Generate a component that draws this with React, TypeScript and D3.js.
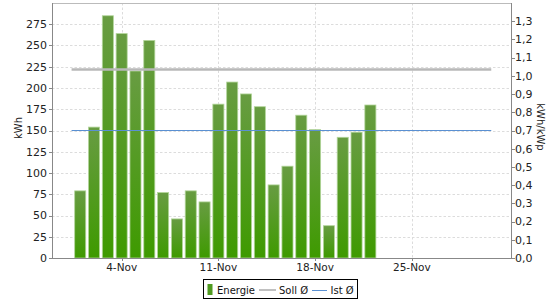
import React from 'react';
import * as d3 from 'd3';

// ---- data ----
const dayNumbers = [1,2,3,4,5,6,7,8,9,10,11,12,13,14,15,16,17,18,19,20,21,22];
const energyKWh = [79,154,285,264,220,256,77,46,79,66,181,207,193,178,86,108,168,151,38,142,148,180];
const sollAvgKWhPerKWp = 1.035;
const istAvgKWh = 150.2;
const avgLineStart = new Date(2012, 9, 31, 9, 0);
const avgLineEnd = new Date(2012, 10, 30, 18, 0);
const leftTicks = [0,25,50,75,100,125,150,175,200,225,250,275];
const rightTicks = [0,0.1,0.2,0.3,0.4,0.5,0.6,0.7,0.8,0.9,1.0,1.1,1.2,1.3];
const xTickDays = [4, 11, 18, 25];
const xTickLabels = ['4-Nov', '11-Nov', '18-Nov', '25-Nov'];
const legendLabels = ['Energie', 'Soll Ø', 'Ist Ø'];

const W = 560, H = 300;
const M = { left: 52, right: 512, top: 3, bottom: 258 };
const FONT = 'DejaVu Sans, sans-serif';

export default function App() {
  const x = d3.scaleTime()
    .domain([new Date(2012, 9, 29, 23, 0), new Date(2012, 11, 2, 6, 0)])
    .range([M.left, M.right]);
  const yL = d3.scaleLinear().domain([0, 300]).range([M.bottom, M.top]);
  const yR = d3.scaleLinear().domain([0, 1.4]).range([M.bottom, M.top]);
  const fmtR = (v: number) => d3.format('.1f')(v).replace('.', ',');
  const dayDate = (d: number) => new Date(2012, 10, d);
  const halfBar = 0.4 * 24 * 3600 * 1000;

  return (
    <svg width={W} height={H} style={{ position: 'absolute', left: 0, top: 0, background: '#fff' }} fontFamily={FONT}>
      <defs>
        <linearGradient id="barGrad" x1="0" y1="0" x2="0" y2="1">
          <stop offset="0%" stopColor="#689c42" />
          <stop offset="100%" stopColor="#3e9a00" />
        </linearGradient>
      </defs>
      {/* horizontal grid */}
      {leftTicks.filter(t => t > 0).map(t => (
        <line key={'hg' + t} x1={M.left} x2={M.right} y1={Math.round(yL(t)) + 0.5} y2={Math.round(yL(t)) + 0.5}
          stroke="#dcdcdc" strokeDasharray="2.5,2" />
      ))}
      {/* vertical grid */}
      {xTickDays.map(d => (
        <line key={'vg' + d} x1={Math.round(x(dayDate(d))) + 0.5} x2={Math.round(x(dayDate(d))) + 0.5}
          y1={M.top} y2={M.bottom} stroke="#dcdcdc" strokeDasharray="2.5,2" />
      ))}
      {/* bars */}
      {energyKWh.map((v, i) => {
        const dd = dayDate(dayNumbers[i]);
        const x0 = x(new Date(dd.getTime() - halfBar));
        const x1 = x(new Date(dd.getTime() + halfBar));
        return (
          <rect key={'b' + i} x={x0} y={yL(v)} width={x1 - x0} height={M.bottom - yL(v)}
            fill="url(#barGrad)" stroke="#b2d59a" strokeWidth={0.8} />
        );
      })}
      {/* average lines */}
      <line x1={x(avgLineStart)} x2={x(avgLineEnd)} y1={yR(sollAvgKWhPerKWp)} y2={yR(sollAvgKWhPerKWp)}
        stroke="#b8b8b8" strokeWidth={2.5} />
      <line x1={x(avgLineStart)} x2={x(avgLineEnd)} y1={Math.round(yL(istAvgKWh)) + 0.5} y2={Math.round(yL(istAvgKWh)) + 0.5}
        stroke="#5a90d2" strokeWidth={1} />
      {/* frame */}
      <line x1={M.left} x2={M.right} y1={M.top + 0.5} y2={M.top + 0.5} stroke="#bbbbbb" />
      <line x1={M.left + 0.5} x2={M.left + 0.5} y1={M.top} y2={M.bottom} stroke="#888" />
      <line x1={M.right - 0.5} x2={M.right - 0.5} y1={M.top} y2={M.bottom} stroke="#888" />
      <line x1={M.left} x2={M.right} y1={M.bottom + 0.5} y2={M.bottom + 0.5} stroke="#888" />
      {/* left axis */}
      {leftTicks.map(t => (
        <g key={'lt' + t}>
          <line x1={M.left - 3} x2={M.left} y1={Math.round(yL(t)) + 0.5} y2={Math.round(yL(t)) + 0.5} stroke="#888" />
          <text x={M.left - 5} y={yL(t)} dy="0.35em" textAnchor="end" fontSize={11} fill="#222">{t}</text>
        </g>
      ))}
      {/* right axis */}
      {rightTicks.map(t => (
        <g key={'rt' + t}>
          <line x1={M.right} x2={M.right + 3} y1={Math.round(yR(t)) + 0.5} y2={Math.round(yR(t)) + 0.5} stroke="#888" />
          <text x={M.right + 3} y={yR(t)} dy="0.35em" textAnchor="start" fontSize={11} fill="#222">{fmtR(t)}</text>
        </g>
      ))}
      {/* x axis */}
      {xTickDays.map((d, i) => (
        <g key={'xt' + d}>
          <line x1={Math.round(x(dayDate(d))) + 0.5} x2={Math.round(x(dayDate(d))) + 0.5} y1={M.bottom} y2={M.bottom + 3} stroke="#888" />
          <text x={x(dayDate(d))} y={M.bottom + 9} dy="0.35em" textAnchor="middle" fontSize={10.5} fill="#222">{xTickLabels[i]}</text>
        </g>
      ))}
      {/* axis titles */}
      <text transform={`translate(18,128) rotate(-90)`} textAnchor="middle" dy="0.35em" fontSize={10} fill="#222">kWh</text>
      <text transform={`translate(540,127) rotate(90)`} textAnchor="middle" dy="0.35em" fontSize={10} fill="#222">kWh/kWp</text>
      {/* legend */}
      <rect x={203.5} y={279.5} width={154} height={19} fill="#fff" stroke="#000" strokeWidth={1} />
      <rect x={207.5} y={284} width={5} height={11} fill="#4f9a20" />
      <text x={217} y={290} dy="0.35em" fontSize={10} fill="#111">{legendLabels[0]}</text>
      <line x1={259} x2={276} y1={290} y2={290} stroke="#c0c0c0" strokeWidth={2} />
      <text x={279} y={290} dy="0.35em" fontSize={10} fill="#111">{legendLabels[1]}</text>
      <line x1={312} x2={327} y1={290.5} y2={290.5} stroke="#5a90d2" strokeWidth={1} />
      <text x={330.5} y={290} dy="0.35em" fontSize={10} fill="#111">{legendLabels[2]}</text>
    </svg>
  );
}
